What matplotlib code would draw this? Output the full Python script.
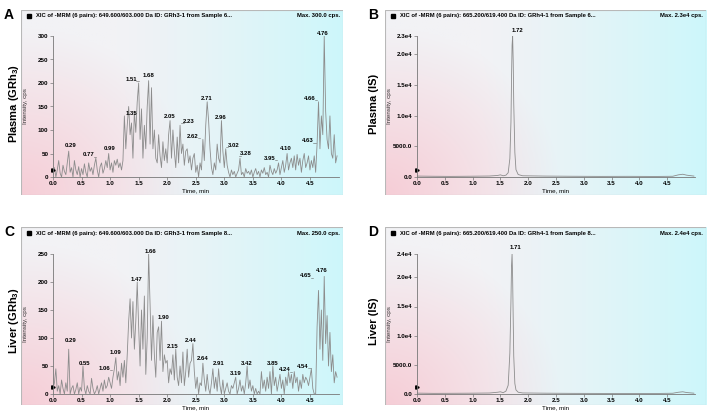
import numpy as np
import matplotlib
matplotlib.use("Agg")
import matplotlib.pyplot as plt
from matplotlib.patches import Rectangle

plt.rcParams['font.family'] = ['Liberation Sans', 'DejaVu Sans']
plt.rcParams['font.weight'] = 'bold'
plt.rcParams['mathtext.fontset'] = 'custom'
plt.rcParams['mathtext.rm'] = 'Liberation Sans:bold'
plt.rcParams['mathtext.it'] = 'Liberation Sans:bold'
plt.rcParams['mathtext.bf'] = 'Liberation Sans:bold'

W, H = 708, 415

# ---- data ----
# GRh3 traces, one reading every 0.025 min from 0.000 to 4.975 min
plasma_grh3 = [
    5, 20, 0, 15, 35, 8, 0, 25, 12, 5,
    30, 55, 10, 20, 0, 35, 15, 5, 22, 0,
    18, 5, 28, 10, 0, 30, 12, 20, 5, 25,
    40, 15, 0, 22, 30, 8, 18, 35, 20, 50,
    15, 30, 10, 35, 25, 38, 20, 30, 15, 35,
    130, 60, 110, 150, 90, 115, 40, 140, 95, 160,
    200, 80, 145, 40, 110, 60, 150, 205, 70, 190,
    60, 100, 40, 30, 90, 45, 20, 75, 35, 60,
    30, 90, 120, 40, 100, 55, 20, 85, 30, 110,
    50, 70, 25, 55, 60, 30, 45, 15, 40, 50,
    10, 25, 0, 30, 15, 80, 35, 110, 160, 120,
    60, 20, 5, 30, 15, 70, 40, 30, 120, 55,
    20, 60, 25, 10, 0, 15, 5, 12, 0, 8,
    15, 40, 5, 10, 0, 18, 8, 12, 5, 15,
    0, 10, 18, 5, 12, 0, 15, 8, 20, 5,
    10, 0, 25, 12, 5, 18, 8, 15, 30, 5,
    20, 35, 10, 25, 50, 15, 30, 40, 20, 45,
    15, 48, 25, 40, 10, 35, 50, 20, 30, 45,
    15, 35, 20, 45, 10, 70, 160, 60, 130, 90,
    300, 140, 80, 60, 130, 50, 40, 90, 30, 45,
]
liver_grh3 = [
    10, 20, 45, 5, 15, 0, 25, 10, 0, 20,
    5, 80, 0, 10, 15, 0, 8, 20, 0, 12,
    5, 50, 10, 0, 15, 5, 0, 28, 10, 0,
    5, 15, 0, 10, 20, 5, 25, 10, 15, 30,
    20, 10, 30, 45, 65, 25, 40, 15, 55, 30,
    60, 20, 70, 130, 170, 100, 165, 80, 130, 200,
    120, 50, 150, 80, 175, 35, 100, 250, 160, 60,
    140, 70, 30, 110, 120, 60, 130, 40, 70, 55,
    60, 20, 45, 35, 70, 25, 80, 30, 15, 50,
    20, 75, 15, 40, 80, 30, 55, 60, 90, 40,
    10, 30, 0, 20, 15, 55, 25, 5, 35, 10,
    0, 20, 45, 10, 30, 5, 45, 15, 0, 25,
    0, 10, 20, 5, 0, 15, 10, 20, 30, 0,
    10, 25, 5, 15, 0, 20, 50, 10, 25, 5,
    15, 0, 10, 0, 5, 0, 40, 10, 25, 5,
    30, 10, 40, 0, 50, 15, 30, 5, 20, 35,
    10, 25, 0, 30, 15, 40, 20, 35, 10, 40,
    20, 30, 5, 25, 10, 35, 20, 30, 25, 15,
    30, 45, 10, 0, 0, 120, 185, 80, 150, 60,
    210, 90, 140, 50, 110, 40, 70, 20, 40, 30,
]
grh3_time = np.linspace(0, 4.975, len(plasma_grh3))

# internal standard (GRh4) traces
is_time = [0.0, 0.3, 0.6, 1.0, 1.3, 1.45, 1.5, 1.55, 1.6, 1.64, 1.67, 1.69,
           1.70, 1.71, 1.72, 1.73, 1.74, 1.76, 1.78, 1.82, 1.9, 2.3, 2.8,
           3.3, 3.8, 4.3, 4.6, 4.7, 4.78, 4.85, 4.98]
plasma_is = [150, 120, 100, 130, 160, 250, 350, 200, 300, 700, 3000, 9000,
             16000, 21500, 23000, 19000, 12000, 4000, 1200, 400, 200, 150,
             120, 100, 110, 90, 120, 350, 450, 300, 150]
liver_is = [150, 110, 120, 140, 170, 300, 380, 220, 500, 1500, 7000, 16000,
            22000, 24000, 20000, 13000, 6500, 1800, 700, 300, 180, 140,
            110, 100, 100, 90, 130, 300, 380, 250, 140]

plasma_labels = ['0.29', '0.77', '0.99', '1.35', '1.51', '1.68', '2.05', '2.23',
                 '2.62', '2.71', '2.96', '3.02', '3.28', '3.95', '4.10', '4.63',
                 '4.66', '4.76']
plasma_label_x = [0.30, 0.63, 1.00, 1.37, 1.37, 1.68, 2.05, 2.38, 2.45, 2.70,
                  2.94, 3.16, 3.38, 3.79, 4.08, 4.47, 4.50, 4.73]
plasma_label_y = [68, 47, 60, 136, 208, 217, 128, 119, 87, 168, 126, 68, 49,
                  40, 60, 77, 168, 306]
plasma_lead = ['', 'r', '', '', 'r', '', '', 'l', 'r', '', '', 'l', 'l', 'r',
               '', 'r', 'r', '']

liver_labels = ['0.29', '0.55', '1.06', '1.09', '1.47', '1.66', '1.90', '2.15',
                '2.44', '2.64', '2.91', '3.19', '3.42', '3.85', '4.24', '4.54',
                '4.65', '4.76']
liver_label_x = [0.31, 0.56, 0.91, 1.10, 1.47, 1.70, 1.93, 2.10, 2.42, 2.63,
                 2.91, 3.20, 3.40, 3.85, 4.06, 4.38, 4.43, 4.71]
liver_label_y = [96, 55, 46, 75, 205, 255, 136, 84, 95, 64, 55, 36, 54, 54,
                 43, 50, 211, 220]
liver_lead = ['', '', 'r', '', '', '', '', '', '', '', '', '', '', '', 'r',
              'r', 'r', '']

fig = plt.figure(figsize=(W / 100, H / 100), dpi=100)


def px_axes(x0, y0, x1, y1, **kw):
    return fig.add_axes([x0 / W, 1 - y1 / H, (x1 - x0) / W, (y1 - y0) / H], **kw)


def gradient_box(x0, y0, x1, y1):
    bg = px_axes(x0, y0, x1, y1, zorder=0)
    u = np.linspace(0, 1, 200)[None, :]
    v = np.linspace(1, 0, 120)[:, None]
    base = np.array([242, 242, 245]) / 255
    pink = np.array([246, 205, 214]) / 255
    cyan = np.array([205, 247, 251]) / 255
    wp = np.clip(1 - np.sqrt((u / 0.55) ** 2 + (v / 0.9) ** 2), 0, 1)
    wc = np.clip((u - 0.3) / 0.7, 0, 1) ** 1.2
    img = base[None, None, :] * (1 - wp - wc)[..., None] + pink * wp[..., None] + cyan * wc[..., None]
    bg.imshow(np.clip(img, 0, 1), aspect='auto', extent=[0, 1, 0, 1])
    bg.add_patch(Rectangle((0, 0), 1, 1, transform=bg.transAxes, fill=False,
                           ec='#b8b8b8', lw=0.8))
    bg.set_axis_off()
    return bg


def panel(box, plot, header, max_txt, x, y, ymax, yticks, yticklabels,
          big_label, big_x, letter, labels=None, lab_x=None, lab_y=None, lead=None,
          ylab_x=None):
    bx0, by0, bx1, by1 = box
    gradient_box(*box)
    fig.text(bx0 / W - 17 / W, 1 - (by0 - 2) / H, letter, fontsize=10,
             ha='left', va='top')
    # header line
    fig.patches.append(Rectangle(((bx0 + 6) / W, 1 - (by0 + 8) / H), 4 / W, 4 / H,
                                 transform=fig.transFigure, color='black'))
    fig.text((bx0 + 15) / W, 1 - (by0 + 6) / H, header, fontsize=4.2,
             ha='left', va='center')
    fig.text((bx1 - 3) / W, 1 - (by0 + 6) / H, max_txt, fontsize=4.2,
             ha='right', va='center')

    px0, py0, px1, py1 = plot
    ax = px_axes(px0, py0, px1, py1, zorder=2)
    ax.patch.set_alpha(0)
    ax.plot(x, y, color='#8c8c8c', lw=0.6)
    ax.set_xlim(0, 5.0)
    ax.set_ylim(0, ymax)
    for s in ['top', 'right']:
        ax.spines[s].set_visible(False)
    for s in ['left', 'bottom']:
        ax.spines[s].set_color('#777777')
        ax.spines[s].set_linewidth(0.6)
    ax.set_xticks(np.arange(0, 4.6, 0.5))
    ax.set_xticklabels([f'{t:.1f}' for t in np.arange(0, 4.6, 0.5)])
    ax.set_yticks(yticks)
    ax.set_yticklabels(yticklabels)
    ax.tick_params(length=2, width=0.5, color='#777777', labelsize=4.5, pad=1.2)
    ax.set_xlabel('Time, min', fontsize=4.5, labelpad=1)
    ax.plot([0.0], [ymax * 0.05], marker='>', color='black', ms=2.5, clip_on=False)
    fig.text(ylab_x / W, 1 - ((py0 + py1) / 2) / H, 'Intensity, cps', fontsize=4.5,
             rotation=90, ha='center', va='center', fontweight='normal', color='#333333')
    fig.text(big_x / W, 1 - ((py0 + py1) / 2 - 3) / H, big_label, fontsize=8,
             rotation=90, ha='center', va='center')
    if labels:
        for txt, lx, ly, ld in zip(labels, lab_x, lab_y, lead):
            ax.text(lx, ly, txt, fontsize=4.3, ha='center', va='center', clip_on=False)
            if ld == 'r':
                ax.plot([lx + 0.09, lx + 0.13], [ly - ymax * 0.015] * 2, color='#666666', lw=0.4)
            elif ld == 'l':
                ax.plot([lx - 0.13, lx - 0.09], [ly - ymax * 0.015] * 2, color='#666666', lw=0.4)
    return ax


panel((21, 10, 343, 195), (53, 36, 338.5, 177),
      'XIC of -MRM (6 pairs): 649.600/603.000 Da ID: GRh3-1 from Sample 6...',
      'Max. 300.0 cps.', grh3_time, plasma_grh3, 300,
      [0, 50, 100, 150, 200, 250, 300], ['0', '50', '100', '150', '200', '250', '300'],
      'Plasma (GRh$_3$)', 14, 'A', plasma_labels, plasma_label_x, plasma_label_y,
      plasma_lead, ylab_x=26)

axb = panel((385, 10, 706, 195), (417, 36, 695, 177),
            'XIC of -MRM (6 pairs): 665.200/619.400 Da ID: GRh4-1 from Sample 6...',
            'Max. 2.3e4 cps.', is_time, plasma_is, 23000,
            [0, 5000, 10000, 15000, 20000, 23000],
            ['0.0', '5000.0', '1.0e4', '1.5e4', '2.0e4', '2.3e4'],
            'Plasma (IS)', 374, 'B', ylab_x=390)
axb.text(1.80, 23900, '1.72', fontsize=4.3, ha='center', va='center', clip_on=False)

panel((21, 227, 343, 405), (53, 254, 338.5, 394),
      'XIC of -MRM (6 pairs): 649.600/603.000 Da ID: GRh3-1 from Sample 8...',
      'Max. 250.0 cps.', grh3_time, liver_grh3, 250,
      [0, 50, 100, 150, 200, 250], ['0', '50', '100', '150', '200', '250'],
      'Liver (GRh$_3$)', 14, 'C', liver_labels, liver_label_x, liver_label_y,
      liver_lead, ylab_x=26)

axd = panel((385, 227, 706, 405), (417, 254, 695, 394),
            'XIC of -MRM (6 pairs): 665.200/619.400 Da ID: GRh4-1 from Sample 8...',
            'Max. 2.4e4 cps.', is_time, liver_is, 24000,
            [0, 5000, 10000, 15000, 20000, 24000],
            ['0.0', '5000.0', '1.0e4', '1.5e4', '2.0e4', '2.4e4'],
            'Liver (IS)', 374, 'D', ylab_x=390)
axd.text(1.78, 25200, '1.71', fontsize=4.3, ha='center', va='center', clip_on=False)

fig.savefig('out.png', dpi=100)
